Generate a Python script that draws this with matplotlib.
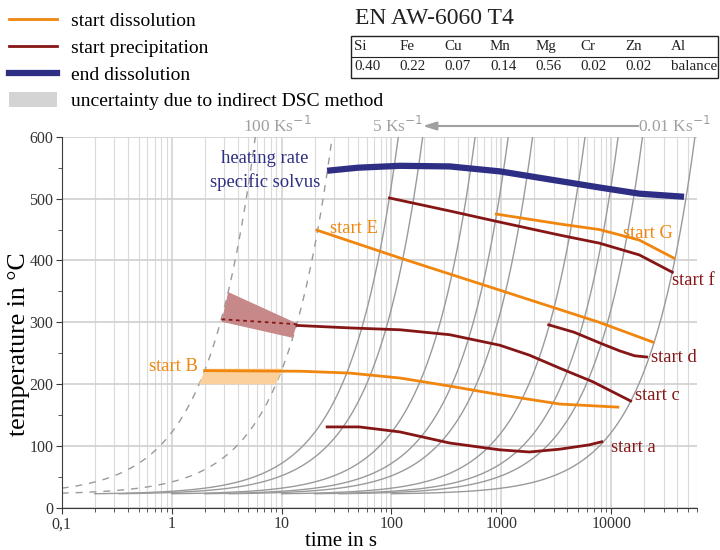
import matplotlib
matplotlib.use('Agg')
import matplotlib.pyplot as plt
from matplotlib.lines import Line2D
from matplotlib.patches import Patch, Rectangle, Polygon
import numpy as np

plt.rcParams['font.family'] = ['Liberation Serif', 'DejaVu Serif']

# heating rates (K/s) of the grey guide lines, start at room temperature
rates_solid = [5, 3, 1, 0.5, 0.3, 0.1, 0.05, 0.03, 0.01]
rates_dashed = [100, 20]
T_room = 22

# end dissolution (heating rate specific solvus)
end_t = [26, 50, 120, 340, 970, 2750, 7800, 18000, 46000]
end_T = [545, 550, 553, 552, 544, 531, 518, 508, 503]

# start dissolution curves
E_t = [21, 120, 970, 7800, 24000]
E_T = [449, 404, 352, 300, 268]
G_t = [900, 3400, 7800, 18000, 37000]
G_T = [475, 459, 450, 433, 404]
B_t = [2.0, 15, 42, 120, 340, 970, 3400, 11500]
B_T = [222, 221, 218, 210, 197, 183, 168, 163]

# start precipitation curves
f_t = [96, 340, 970, 3400, 7800, 18000, 36000]
f_T = [501, 480, 462, 441, 428, 409, 381]
d_t = [2700, 4600, 7800, 11900, 16300, 21000]
d_T = [296, 284, 267, 254, 246, 244]
c_t = [13.8, 42, 120, 340, 970, 1800, 3400, 6800, 15000]
c_T = [295, 291, 288, 280, 263, 247, 226, 204, 173]
c_dot_t = [2.85, 13.8]
c_dot_T = [305, 297]
a_t = [26, 51, 119, 339, 966, 1800, 3400, 6300, 8200]
a_T = [131, 131, 123, 105, 94, 90.5, 95, 102, 107]

# uncertainty areas (indirect DSC method)
unc_c_t = [3.27, 13.9, 12.6, 2.85]
unc_c_T = [349, 298, 275, 301]
unc_B_t = [1.78, 2.03, 10.2, 8.9]
unc_B_T = [200, 225, 225, 200]

elements = ['Si', 'Fe', 'Cu', 'Mn', 'Mg', 'Cr', 'Zn', 'Al']
contents = ['0.40', '0.22', '0.07', '0.14', '0.56', '0.02', '0.02', 'balance']

orange = '#f0860e'
darkred = '#861616'
navy = '#2e2e85'
grey = '#9a9a9a'

fig = plt.figure(figsize=(7.2, 5.5), dpi=100)
ax = fig.add_axes([0.0857, 0.0764, 0.882, 0.675])
ax.set_xscale('log')
ax.set_xlim(0.1, 6e4)
ax.set_ylim(0, 600)

# grey heating lines
for r in rates_solid:
    t = np.logspace(np.log10(1 / r), np.log10(min((600 - T_room) / r, 6e4)), 200)
    ax.plot(t, T_room + r * t, color=grey, lw=1, zorder=2)
for r in rates_dashed:
    t = np.logspace(-1, np.log10((600 - T_room) / r), 200)
    ax.plot(t, T_room + r * t, color=grey, lw=1, ls=(0, (5, 5)), zorder=2)

# uncertainty areas
ax.add_patch(Polygon(np.column_stack([unc_c_t, unc_c_T]), closed=True,
                     facecolor='#c68888', edgecolor='none', zorder=3))
ax.add_patch(Polygon(np.column_stack([unc_B_t, unc_B_T]), closed=True,
                     facecolor='#fcd09c', edgecolor='none', zorder=3))

# curves
ax.plot(end_t, end_T, color=navy, lw=4.5, solid_capstyle='butt', zorder=5)
for t, T in [(E_t, E_T), (G_t, G_T), (B_t, B_T)]:
    ax.plot(t, T, color=orange, lw=2, zorder=5)
for t, T in [(f_t, f_T), (d_t, d_T), (c_t, c_T), (a_t, a_T)]:
    ax.plot(t, T, color=darkred, lw=2, zorder=5)
ax.plot(c_dot_t, c_dot_T, color=darkred, lw=1.3, ls=(0, (2, 2)), zorder=5)

# labels on the curves
fs = 13.4
ax.text(27.5, 452, 'start E', color=orange, fontsize=fs, va='center')
ax.text(12700, 444, 'start G', color=orange, fontsize=fs, va='center')
ax.text(1.73, 228, 'start B', color=orange, fontsize=fs, va='center', ha='right')
ax.text(36000, 368, 'start f', color=darkred, fontsize=fs, va='center')
ax.text(23200, 244, 'start d', color=darkred, fontsize=fs, va='center')
ax.text(16600, 181, 'start c', color=darkred, fontsize=fs, va='center')
ax.text(10000, 98, 'start a', color=darkred, fontsize=fs, va='center')
ax.text(7.05, 545, 'heating rate\nspecific solvus', color=navy, fontsize=fs,
        ha='center', va='center', multialignment='center', linespacing=1.45)

# axes styling
ax.set_xticks([0.1, 1, 10, 100, 1000, 10000])
ax.set_xticklabels(['0,1', '1', '10', '100', '1000', '10000'])
minor = [k * 10.0 ** d for d in range(-1, 4) for k in range(2, 10)] + [2e4, 3e4, 4e4, 5e4, 6e4]
ax.set_xticks(minor, minor=True)
ax.set_xticklabels([], minor=True)
ax.set_yticks(range(0, 601, 100))
ax.set_yticks(range(50, 600, 100), minor=True)
ax.set_axisbelow(True)
ax.xaxis.grid(True, which='minor', color='#dadada', lw=0.8)
ax.xaxis.grid(True, which='major', color='#cfcfcf', lw=1.1)
ax.yaxis.grid(True, which='major', color='#d0d0d0', lw=1.2)
for s in ['top', 'right']:
    ax.spines[s].set_visible(False)
for s in ['left', 'bottom']:
    ax.spines[s].set_color('#3a3a3a')
ax.tick_params(which='major', length=4.5, color='#3a3a3a', labelsize=11.5, labelcolor='#333333', pad=1.5)
ax.tick_params(which='minor', length=3, color='#3a3a3a')
ax.set_xlabel('time in s', fontsize=15, va='baseline')
ax.xaxis.set_label_coords(0.44, -0.102)
ax.set_ylabel('temperature in °C', fontsize=18.5)
ax.yaxis.set_label_coords(-0.05, 0.44)

# heating rate annotations above the plot
tc = '#a0a0a0'
fig.text(277 / 720, 1 - 126 / 550, '100 Ks$^{-1}$', color=tc, fontsize=12.5, ha='center', va='center')
fig.text(398 / 720, 1 - 126 / 550, '5 Ks$^{-1}$', color=tc, fontsize=12.5, ha='center', va='center')
fig.text(675 / 720, 1 - 126 / 550, '0.01 Ks$^{-1}$', color=tc, fontsize=12.5, ha='center', va='center')
ax.annotate('', xy=(420 / 720, 1 - 126 / 550), xytext=(641 / 720, 1 - 126 / 550),
            xycoords='figure fraction', textcoords='figure fraction',
            arrowprops=dict(arrowstyle='-|>,head_length=0.8,head_width=0.25', color=tc, lw=1.5))

# legend
handles = [Line2D([], [], color=orange, lw=2),
           Line2D([], [], color=darkred, lw=2),
           Line2D([], [], color=navy, lw=4.5),
           Patch(facecolor='#d4d4d4', edgecolor='none')]
labels = ['start dissolution', 'start precipitation', 'end dissolution',
          'uncertainty due to indirect DSC method']
fig.legend(handles, labels, loc='upper left', bbox_to_anchor=(9 / 720, 1 - 12 / 550),
           frameon=False, fontsize=14, handlelength=2.45, handletextpad=0.75,
           labelspacing=0.42, borderpad=0, borderaxespad=0, handleheight=0.85)

# alloy composition table
fig.text(355 / 720, 1 - 18 / 550, 'EN AW-6060 T4', fontsize=17, va='center', color='#222222')
fig.add_artist(Rectangle((351 / 720, 1 - 78 / 550), 367 / 720, 42 / 550, transform=fig.transFigure,
                         fill=False, edgecolor='#222222', lw=1))
fig.add_artist(Line2D([351 / 720, 718 / 720], [1 - 57 / 550, 1 - 57 / 550], transform=fig.transFigure,
                      color='#222222', lw=0.8))
for i, (el, val) in enumerate(zip(elements, contents)):
    x = (354 + 45.3 * i) / 720
    fig.text(x, 1 - 46.5 / 550, el, fontsize=10.8, va='center', color='#222222')
    fig.text(x, 1 - 67 / 550, val, fontsize=10.8, va='center', color='#222222')

fig.savefig('out.png', dpi=100)
